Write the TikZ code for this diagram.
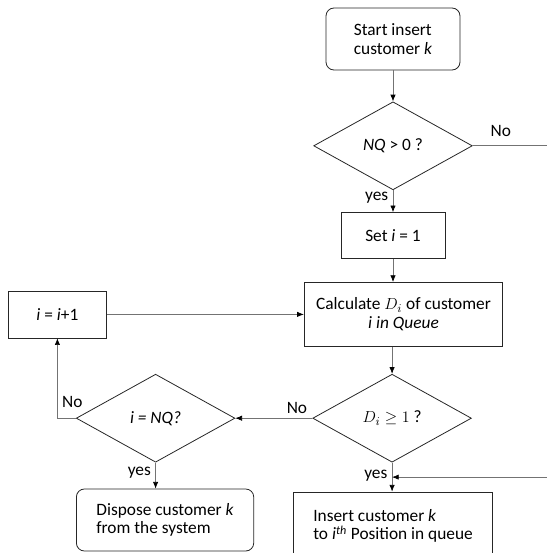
\documentclass[tikz,border=0pt]{standalone}
\usepackage{fontspec}
\setmainfont{Carlito}
\usetikzlibrary{positioning,shapes.geometric,arrows.meta,calc}

\begin{document}
\begin{tikzpicture}[
    x=0.75pt, y=-0.75pt,
    font=\fontsize{13}{14}\selectfont,
    box/.style={rectangle, draw=black!85, line width=0.6pt, align=center, inner sep=2pt},
    termbox/.style={box, rounded corners=6pt},
    decision/.style={diamond, draw=black!85, line width=0.6pt, aspect=1.8, inner sep=0pt, minimum width=119pt, minimum height=66pt},
    arrow/.style={-{Latex[length=5pt,width=4pt,black]}, draw=black!55, line width=0.5pt}
]
\useasboundingbox (0,0) rectangle (546,553);

% Main column
\node[termbox, minimum width=100.5pt, minimum height=46.5pt, align=left] (start) at (393,39) {Start insert\\customer \textit{k}};
\node[decision, below=23.25pt of start] (nq) {\textit{NQ} > 0 ?};
\node[box, minimum width=78pt, minimum height=34.5pt, below=16.5pt of nq] (seti) {Set \textit{i} = 1};
\node[box, minimum width=149pt, minimum height=48pt, below=17.25pt of seti, xshift=7.9pt] (calc) {Calculate $D_i$ of customer\\\textit{i in Queue}};
\node[decision, below=20.25pt of calc, xshift=-8.6pt] (dval) {$D_i \geq 1$ ?};
\node[box, minimum width=149pt, minimum height=51pt, below=21.75pt of dval, xshift=0.75pt, align=left] (insert) {Insert customer \textit{k}\\to \textit{i}\textsuperscript{\textit{th}} Position in queue};

% Left column
\node[decision, left=57.75pt of dval] (nqi) {\textit{i = NQ?}};
\node[box, minimum width=73.5pt, minimum height=35.25pt, left=147.75pt of calc] (inc) {\textit{i} = \textit{i}+1};
\node[termbox, minimum width=133pt, minimum height=46.5pt, below=19.5pt of nqi, xshift=7.1pt, align=left] (dispose) {Dispose customer \textit{k}\\from the system};

\coordinate (join) at ($(dval.south)!0.5!(dval.south |- insert.north)$);

% Arrows
\draw[arrow] (start) -- (nq);
\draw[arrow] (nq) -- node[left, pos=0.35] {yes} (seti);
\draw[arrow] (seti) -- (seti |- calc.north);
\draw[arrow] (dval |- calc.south) -- (dval);
\draw[arrow] (dval) -- node[above, pos=0.2] {No} (nqi);
\draw[arrow] (nqi.west) -| node[right, pos=0.6] {No} (inc.south);
\draw[arrow] (inc) -- (calc);
\draw[arrow] (nqi) -- node[left, pos=0.4] {yes} (nqi |- dispose.north);
\draw[arrow] (dval) -- node[left, pos=0.45] {yes} (dval |- insert.north);

% Empty queue goes straight to insert
\draw[arrow] (nq.east) -- node[above, pos=0.3, yshift=3pt] {No} ++(70pt,0) |- (join);

\end{tikzpicture}
\end{document}
